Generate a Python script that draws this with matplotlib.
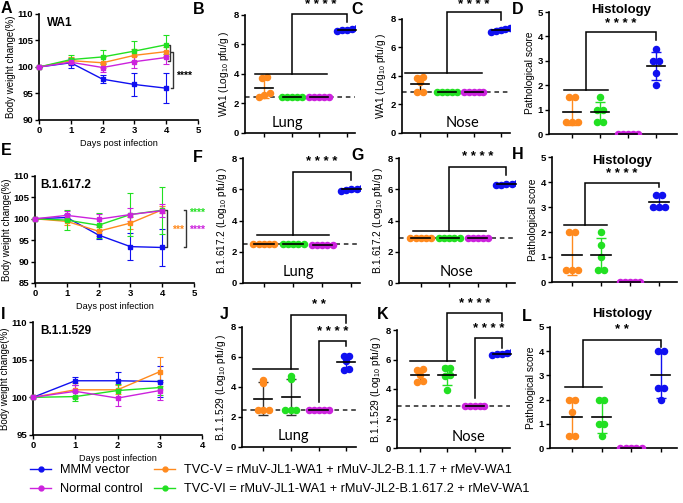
import numpy as np
import matplotlib
matplotlib.use("Agg")
import matplotlib.pyplot as plt
from matplotlib.lines import Line2D

plt.rcParams['font.family'] = ['Liberation Sans', 'DejaVu Sans']
plt.rcParams['font.weight'] = 'bold'
plt.rcParams['mathtext.default'] = 'regular'

# ---------------- data ----------------
group_names = ["MMM vector", "Normal control",
               "TVC-V = rMuV-JL1-WA1 + rMuV-JL2-B.1.1.7 + rMeV-WA1",
               "TVC-VI = rMuV-JL1-WA1 + rMuV-JL2-B.1.617.2 + rMeV-WA1"]
C_MMM, C_CTRL, C_V, C_VI = "#1010F0", "#CC22DD", "#FF8A1E", "#22E022"

# body weight (%) – WA1
days_wa1 = [0, 1, 2, 3, 4]
wa1_mmm = [100, 100.8, 97.7, 96.7, 96.0]
wa1_mmm_sd = [0, 0.9, 0.8, 2.1, 2.8]
wa1_v = [100, 101.2, 100.8, 102.2, 102.9]
wa1_v_sd = [0, 0.6, 1.0, 1.2, 0.8]
wa1_vi = [100, 101.4, 101.9, 103.0, 104.2]
wa1_vi_sd = [0, 0.9, 1.4, 1.9, 1.8]
wa1_ctrl = [100, 100.9, 99.9, 101.0, 101.8]
wa1_ctrl_sd = [0, 0.6, 0.8, 1.1, 1.2]

# body weight (%) – B.1.617.2
days_delta = [0, 1, 2, 3, 4]
delta_mmm = [100, 100.3, 96.2, 93.5, 93.3]
delta_mmm_sd = [0, 0.8, 1.0, 3.1, 4.3]
delta_v = [100, 99.4, 97.1, 99.0, 102.1]
delta_v_sd = [0, 0.8, 1.1, 1.5, 0.8]
delta_vi = [100, 99.7, 98.5, 101.0, 102.0]
delta_vi_sd = [0, 2.4, 2.9, 5.0, 5.5]
delta_ctrl = [100, 100.8, 99.9, 101.0, 101.9]
delta_ctrl_sd = [0, 1.0, 1.3, 1.5, 1.5]

# body weight (%) – B.1.1.529
days_omi = [0, 1, 2, 3]
omi_mmm = [100, 102.2, 102.2, 102.1]
omi_mmm_sd = [0, 0.5, 1.1, 2.0]
omi_v = [100, 101.0, 101.0, 103.4]
omi_v_sd = [0, 0.9, 0.6, 1.9]
omi_vi = [100, 100.1, 100.9, 101.3]
omi_vi_sd = [0, 0.6, 0.9, 1.0]
omi_ctrl = [100, 100.8, 99.9, 100.9]
omi_ctrl_sd = [0, 0.9, 1.1, 1.2]

# viral titers (Log10 pfu/g), order: TVC-V, TVC-VI, Normal control, MMM vector
wa1_lung_v = [3.7, 3.8, 2.45, 2.55, 2.7]
wa1_lung_vi = [2.45, 2.45, 2.45, 2.45, 2.45]
wa1_lung_ctrl = [2.45, 2.45, 2.45, 2.45, 2.45]
wa1_lung_mmm = [7.1, 7.0, 6.9, 7.0, 7.05]
wa1_lung_lod = 2.45

wa1_nose_v = [3.95, 3.88, 2.85, 2.85, 3.6]
wa1_nose_vi = [2.85, 2.85, 2.85, 2.85, 2.85]
wa1_nose_ctrl = [2.85, 2.85, 2.85, 2.85, 2.85]
wa1_nose_mmm = [7.35, 7.3, 7.15, 7.1, 7.25]
wa1_nose_lod = 2.85

delta_lung_v = [2.48, 2.48, 2.48, 2.48, 2.48]
delta_lung_vi = [2.48, 2.48, 2.48, 2.48, 2.48]
delta_lung_ctrl = [2.45, 2.45, 2.45, 2.45, 2.45]
delta_lung_mmm = [6.1, 5.95, 5.9, 6.0, 6.0]
delta_lung_lod = 2.48

delta_nose_v = [2.88, 2.88, 2.88, 2.88, 2.88]
delta_nose_vi = [2.88, 2.88, 2.88, 2.88, 2.88]
delta_nose_ctrl = [2.88, 2.88, 2.88, 2.88, 2.88]
delta_nose_mmm = [6.3, 6.4, 6.35, 6.35, 6.25]
delta_nose_lod = 2.88

omi_lung_v = [4.5, 4.3, 2.45, 2.45, 2.45]
omi_lung_vi = [4.75, 4.55, 2.45, 2.45, 2.45]
omi_lung_ctrl = [2.45, 2.45, 2.45, 2.45, 2.45]
omi_lung_mmm = [6.1, 6.08, 5.75, 5.15, 5.2]
omi_lung_lod = 2.45

omi_nose_v = [5.35, 5.3, 4.95, 4.5, 4.55]
omi_nose_vi = [5.45, 5.45, 4.95, 4.9, 3.9]
omi_nose_ctrl = [2.88, 2.88, 2.88, 2.88, 2.88]
omi_nose_mmm = [6.5, 6.45, 6.4, 6.32, 6.35]
omi_nose_lod = 2.88

# pathological scores
wa1_hist_v = [1.5, 1.5, 0.5, 0.5, 0.5]
wa1_hist_vi = [1.5, 1.0, 1.0, 0.5, 0.5]
wa1_hist_ctrl = [0, 0, 0, 0, 0]
wa1_hist_mmm = [3.5, 3.0, 3.0, 2.5, 2.0]

delta_hist_v = [2.0, 2.0, 0.5, 0.5, 0.5]
delta_hist_vi = [2.0, 1.5, 1.0, 0.5, 0.5]
delta_hist_ctrl = [0, 0, 0, 0, 0]
delta_hist_mmm = [3.5, 3.5, 3.0, 3.0, 3.0]

omi_hist_v = [2.0, 2.0, 1.5, 0.5, 0.5]
omi_hist_vi = [2.0, 2.0, 1.0, 1.0, 0.5]
omi_hist_ctrl = [0, 0, 0, 0, 0]
omi_hist_mmm = [4.0, 4.0, 2.5, 2.5, 2.0]

# ---------------- figure ----------------
W, H = 683, 503
fig = plt.figure(figsize=(W / 100, H / 100), dpi=100)
STARS = "* * * *"
STARS2 = "* *"
STAR_KW = dict(ha='center', va='center', fontsize=9.5, fontweight='bold')
SITE_KW = dict(ha='center', va='center', fontsize=10.5, fontweight='normal',
               family=['Lato', 'Liberation Sans'])
HIST_KW = dict(ha='center', va='center', fontsize=9.5)


def ax_px(l, t, r, b):
    return fig.add_axes([l / W, 1 - b / H, (r - l) / W, (b - t) / H])


def style(ax):
    for s in ['top', 'right']:
        ax.spines[s].set_visible(False)
    for s in ['left', 'bottom']:
        ax.spines[s].set_linewidth(1.2)
    ax.tick_params(direction='out', length=3, width=1, labelsize=6.8, pad=1.2)
    ax.patch.set_alpha(0)


def ftext(x, y, s, **kw):
    fig.text(x / W, 1 - y / H, s, **kw)


def line_panel(ax, days, series, xmax, ylim, yticks, title, tx):
    for vals, sd, c in series:
        ax.errorbar(days, vals, yerr=sd, color=c, marker='s', ms=3, lw=1,
                    elinewidth=0.8, capsize=2, capthick=0.8, clip_on=False,
                    zorder=3)
    ax.set_xlim(0, xmax)
    ax.set_ylim(*ylim)
    ax.set_xticks(range(0, xmax + 1))
    ax.set_yticks(yticks)
    ax.set_ylabel("Body weight change(%)", fontsize=7, labelpad=1)
    ax.set_xlabel("Days post infection", fontsize=6.6, labelpad=3)
    ax.text(tx, 0.97, title, transform=ax.transAxes, fontsize=8.5,
            va='top', ha='left')
    style(ax)


def spread(vals, tol, step=0.2, maxw=0.36):
    vals = np.asarray(vals, float)
    order = np.argsort(vals)
    offs = np.zeros(len(vals))
    clusters, cur = [], [order[0]]
    for a, b in zip(order[:-1], order[1:]):
        if vals[b] - vals[a] <= tol:
            cur.append(b)
        else:
            clusters.append(cur)
            cur = [b]
    clusters.append(cur)
    for cl in clusters:
        n = len(cl)
        if n > 1:
            st = min(step, 2 * maxw / (n - 1))
            for k, idx in enumerate(cl):
                offs[idx] = (k - (n - 1) / 2) * st
    return offs


def bracket(ax, x1, x2, ytop, y1, y2, lw=1.1):
    ax.plot([x1, x1, x2, x2], [y1, ytop, ytop, y2], color='k', lw=lw,
            clip_on=False, solid_joinstyle='miter', zorder=5)


def dot_panel(ax, groups, xlim, ylim, yticks, tol, errcols, lod=None):
    cols = [C_V, C_VI, C_CTRL, C_MMM]
    for i, (vals, c, ec) in enumerate(zip(groups, cols, errcols)):
        offs = spread(vals, tol)
        ax.plot(i + offs, vals, 'o', color=c, ms=4.4, mec=c, clip_on=True,
                zorder=3)
        m = np.mean(vals)
        s = np.std(vals, ddof=1)
        if s > 0.01:
            ax.errorbar(i, m, yerr=s, color=ec, capsize=3.5, lw=1,
                        capthick=1, zorder=2)
        ax.plot([i - 0.33, i + 0.33], [m, m], color='k', lw=1.2, zorder=4,
                clip_on=False)
    if lod is not None:
        ax.axhline(lod, color='#222222', lw=1.1, ls=(0, (3, 2.5)), zorder=2.5)
    ax.set_xlim(*xlim)
    ax.set_ylim(*ylim)
    ax.set_xticks(range(4))
    ax.set_xticklabels([])
    ax.set_yticks(yticks)
    style(ax)


logticks = [0, 2, 4, 6, 8]
histticks = [0, 1, 2, 3, 4, 5]
ylab_kw = dict(fontsize=7.3, labelpad=2)

# ---- row 1 : WA1 ----
axA = ax_px(39, 14, 198, 120)
line_panel(axA, days_wa1, [(wa1_mmm, wa1_mmm_sd, C_MMM), (wa1_v, wa1_v_sd, C_V),
                           (wa1_vi, wa1_vi_sd, C_VI), (wa1_ctrl, wa1_ctrl_sd, C_CTRL)],
           5, (90, 110), [90, 95, 100, 105, 110], "WA1", 0.05)
axA.plot([4.05, 4.12, 4.12, 4.05], [104.2, 104.2, 101.2, 101.2], color='#333333', lw=1, clip_on=False)
axA.plot([4.15, 4.22, 4.22, 4.15], [102.8, 102.8, 96.0, 96.0], color='#333333', lw=1, clip_on=False)
axA.text(4.3, 98.4, "****", fontsize=7.5, va='center', ha='left')

axB = ax_px(245, 15, 355, 133)
dot_panel(axB, [wa1_lung_v, wa1_lung_vi, wa1_lung_ctrl, wa1_lung_mmm], (-0.7, 3.3), (0, 8),
          logticks, 0.2, [C_V, C_VI, C_CTRL, C_MMM], wa1_lung_lod)
axB.set_ylabel("WA1 (Log$_{10}$ pfu/g )", **ylab_kw)
axB.plot([-0.33, 2.27], [4.0, 4.0], color='k', lw=1.1, zorder=5)
bracket(axB, 1, 3, 8.1, 4.0, 7.55)
axB.text(2.05, 8.66, STARS, **STAR_KW)
axB.text(0.85, 0.7, "Lung", **SITE_KW)

axC = ax_px(402, 19, 510, 133)
dot_panel(axC, [wa1_nose_v, wa1_nose_vi, wa1_nose_ctrl, wa1_nose_mmm], (-0.67, 3.35), (0, 8),
          logticks, 0.2, ['k', C_VI, C_CTRL, C_MMM], wa1_nose_lod)
axC.set_ylabel("WA1 (Log$_{10}$ pfu/g )", **ylab_kw)
axC.plot([-0.55, 2.3], [4.24, 4.24], color='k', lw=1.1, zorder=5)
bracket(axC, 1, 3, 8.47, 4.24, 7.9)
axC.text(2.0, 8.95, STARS, **STAR_KW)
axC.text(1.57, 0.7, "Nose", **SITE_KW)

axD = ax_px(549, 12, 677, 134)
dot_panel(axD, [wa1_hist_v, wa1_hist_vi, wa1_hist_ctrl, wa1_hist_mmm], (-0.82, 3.75), (0, 5),
          histticks, 0.1, [C_V, C_VI, C_CTRL, C_MMM])
axD.set_ylabel("Pathological score", **ylab_kw)
axD.plot([-0.3, 1.3], [1.82, 1.82], color='k', lw=1.1, zorder=5)
bracket(axD, 0.5, 3, 4.18, 1.82, 3.87)
axD.text(1.75, 4.52, STARS, **STAR_KW)
axD.text(1.75, 5.08, "Histology", **HIST_KW)

# ---- row 2 : B.1.617.2 ----
axE = ax_px(35, 176, 194, 283)
line_panel(axE, days_delta, [(delta_mmm, delta_mmm_sd, C_MMM), (delta_v, delta_v_sd, C_V),
                             (delta_vi, delta_vi_sd, C_VI), (delta_ctrl, delta_ctrl_sd, C_CTRL)],
           5, (85, 110), [85, 90, 95, 100, 105, 110], "B.1.617.2", 0.03)
axE.plot([4.08, 4.15, 4.15, 4.08], [102.0, 102.0, 93.3, 93.3], color='#333333', lw=1, clip_on=False)
axE.plot([4.68, 4.75, 4.75, 4.68], [102.0, 102.0, 93.3, 93.3], color='#333333', lw=1, clip_on=False)
axE.text(4.3, 97.4, "***", fontsize=7.5, va='center', ha='left', color=C_V)
axE.text(4.85, 101.5, "****", fontsize=7.5, va='center', ha='left', color=C_VI)
axE.text(4.85, 97.4, "****", fontsize=7.5, va='center', ha='left', color=C_CTRL)

axF = ax_px(243, 158, 360, 283)
dot_panel(axF, [delta_lung_v, delta_lung_vi, delta_lung_ctrl, delta_lung_mmm], (-0.72, 3.3), (0, 8),
          logticks, 0.2, [C_V, C_VI, C_CTRL, C_MMM], delta_lung_lod)
axF.set_ylabel("B.1.617.2 (Log$_{10}$ pfu/g )", **ylab_kw)
axF.plot([-0.24, 2.24], [3.06, 3.06], color='k', lw=1.1, zorder=5)
bracket(axF, 1, 3, 7.13, 3.06, 6.6)
axF.text(2.0, 7.77, STARS, **STAR_KW)
axF.text(1.17, 0.7, "Lung", **SITE_KW)

axG = ax_px(399, 158, 515, 283)
dot_panel(axG, [delta_nose_v, delta_nose_vi, delta_nose_ctrl, delta_nose_mmm], (-0.76, 3.3), (0, 8),
          logticks, 0.2, [C_V, C_VI, C_CTRL, C_MMM], delta_nose_lod)
axG.set_ylabel("B.1.617.2 (Log$_{10}$ pfu/g )", **ylab_kw)
axG.plot([-0.28, 2.3], [3.32, 3.32], color='k', lw=1.1, zorder=5)
bracket(axG, 1, 3, 7.45, 3.32, 6.92)
axG.text(2.0, 8.05, STARS, **STAR_KW)
axG.text(1.24, 0.7, "Nose", **SITE_KW)

axH = ax_px(552, 157, 677, 282)
dot_panel(axH, [delta_hist_v, delta_hist_vi, delta_hist_ctrl, delta_hist_mmm], (-0.69, 3.62), (0, 5),
          histticks, 0.1, [C_V, C_VI, C_CTRL, C_MMM])
axH.set_ylabel("Pathological score", **ylab_kw)
axH.plot([-0.26, 1.2], [2.27, 2.27], color='k', lw=1.1, zorder=5)
bracket(axH, 0.45, 3, 3.96, 2.27, 3.8)
axH.text(1.72, 4.33, STARS, **STAR_KW)
axH.text(1.72, 4.85, "Histology", **HIST_KW)

# ---- row 3 : B.1.1.529 ----
axI = ax_px(33, 322, 202, 435)
line_panel(axI, days_omi, [(omi_mmm, omi_mmm_sd, C_MMM), (omi_v, omi_v_sd, C_V),
                           (omi_vi, omi_vi_sd, C_VI), (omi_ctrl, omi_ctrl_sd, C_CTRL)],
           4, (95, 110), [95, 100, 105, 110], "B.1.1.529", 0.04)

axJ = ax_px(242, 327, 356, 447)
dot_panel(axJ, [omi_lung_v, omi_lung_vi, omi_lung_ctrl, omi_lung_mmm], (-0.76, 3.35), (0, 8),
          logticks, 0.2, ['#333333', '#333333', C_CTRL, C_MMM], omi_lung_lod)
axJ.set_ylabel("B.1.1.529 (Log$_{10}$ pfu/g )", **ylab_kw)
axJ.plot([-0.36, 1.26], [5.18, 5.18], color='k', lw=1.1, zorder=5)
bracket(axJ, 1, 3, 8.8, 5.18, 8.27)
axJ.text(2.0, 9.45, STARS2, **STAR_KW)
bracket(axJ, 2, 3, 7.07, 3.0, 6.75)
axJ.text(2.5, 7.67, STARS, **STAR_KW)
axJ.text(1.08, 0.75, "Lung", **SITE_KW)

axK = ax_px(397, 330, 510, 448)
dot_panel(axK, [omi_nose_v, omi_nose_vi, omi_nose_ctrl, omi_nose_mmm], (-0.85, 3.3), (0, 8),
          logticks, 0.2, ['#333333', C_VI, C_CTRL, C_MMM], omi_nose_lod)
axK.set_ylabel("B.1.1.529 (Log$_{10}$ pfu/g )", **ylab_kw)
axK.plot([-0.37, 1.27], [5.9, 5.9], color='k', lw=1.1, zorder=5)
bracket(axK, 1, 3, 9.15, 5.9, 8.6)
axK.text(2.0, 9.76, STARS, **STAR_KW)
bracket(axK, 2, 3, 7.46, 3.4, 6.8)
axK.text(2.5, 8.1, STARS, **STAR_KW)
axK.text(1.78, 0.75, "Nose", **SITE_KW)

axL = ax_px(550, 327, 677, 448)
dot_panel(axL, [omi_hist_v, omi_hist_vi, omi_hist_ctrl, omi_hist_mmm], (-0.74, 3.55), (0, 5),
          histticks, 0.1, [C_V, C_VI, C_CTRL, C_MMM])
axL.set_ylabel("Pathological score", **ylab_kw)
axL.plot([-0.23, 1.0], [2.52, 2.52], color='k', lw=1.1, zorder=5)
bracket(axL, 0.38, 3, 4.45, 2.52, 4.17)
axL.text(1.7, 4.86, STARS2, **STAR_KW)
axL.text(1.7, 5.55, "Histology", **HIST_KW)

# ---- panel letters ----
for letter, x, y in [("A", 1, 1), ("B", 193, 2), ("C", 351, 2), ("D", 512, 2),
                     ("E", 1, 143), ("F", 193, 150), ("G", 351, 148), ("H", 512, 147),
                     ("I", 1, 307), ("J", 220, 307), ("K", 377, 307), ("L", 522, 309)]:
    ftext(x, y, letter, fontsize=11.5, fontweight='bold', va='top', ha='left')

# ---- legend ----
handles = [Line2D([], [], color=c, marker='o', ms=3.5, lw=1)
           for c in [C_MMM, C_CTRL, C_V, C_VI]]
fig.legend(handles, group_names, ncol=2, loc='upper left',
           bbox_to_anchor=(30 / W, 1 - 464 / H), frameon=False,
           prop={'size': 9.2, 'weight': 'normal'},
           handlelength=1.65, handletextpad=0.7, columnspacing=0.9,
           labelspacing=0.55, borderaxespad=0, borderpad=0)

fig.savefig("out.png", dpi=100)
